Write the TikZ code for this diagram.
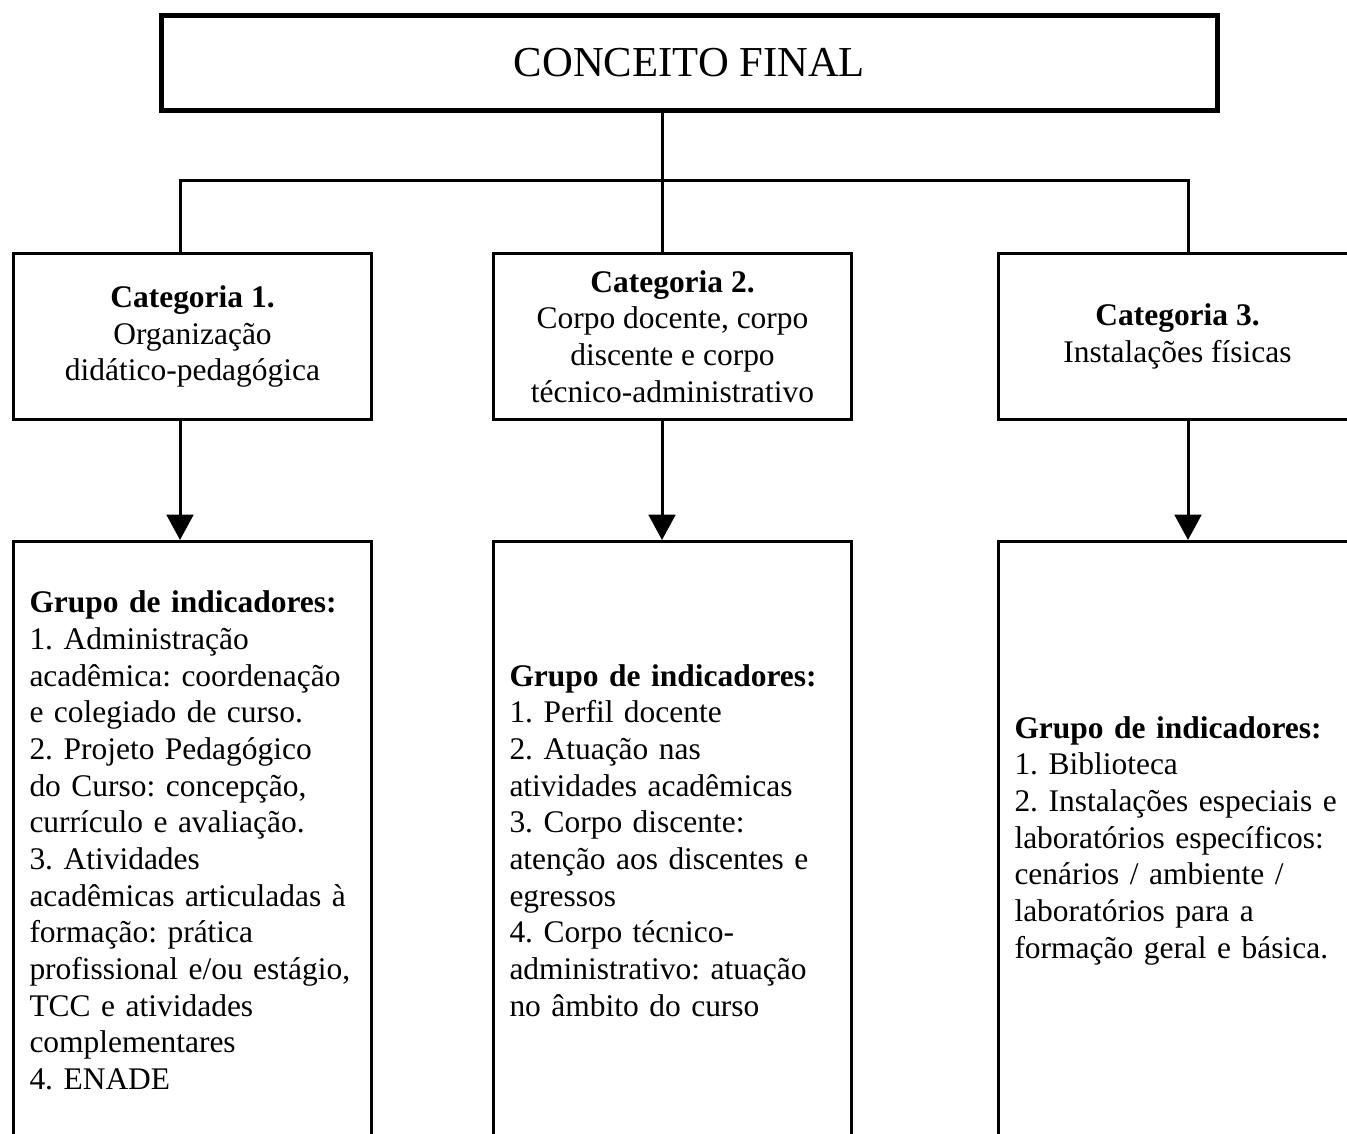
\documentclass[tikz,border=0pt]{standalone}
\usepackage{fontspec}
\setmainfont{Liberation Serif}
\usetikzlibrary{arrows.meta}
\frenchspacing
\hyphenpenalty=10000

\begin{document}
\begin{tikzpicture}[x=0.75pt,y=-0.75pt,
        caixa/.style={shape=rectangle,draw=black,line width=2.25pt,inner sep=0pt,
            minimum width=268.5pt,minimum height=124.5pt,align=center,
            font=\fontsize{23.6}{27.5}\selectfont},
        grupo/.style={shape=rectangle,draw=black,line width=2.25pt,inner xsep=12pt,inner ysep=0pt,
            minimum width=268.5pt,minimum height=448.5pt,text width=244.5pt,align=left,
            font=\fontsize{23.6}{27.5}\selectfont},
        liga/.style={line width=2.25pt},
        seta/.style={line width=2.25pt,-{Triangle[width=20pt,length=19pt]}}]
            \useasboundingbox (0,0) rectangle (1347,1133);
            \clip (0,0) rectangle (1347,1133);

            \node[shape=rectangle,draw=black,line width=3.75pt,minimum width=792pt,minimum height=71.25pt,
                font=\fontsize{32}{36}\selectfont] (final) at (689.5,63) {CONCEITO FINAL};

            \node[caixa] (cat1) at (192.5,336.5) {\textbf{Categoria 1.}\\Organização\\didático-pedagógica};
            \node[caixa] (cat2) at (672.5,336.5) {\textbf{Categoria 2.}\\Corpo docente, corpo\\discente e corpo\\técnico-administrativo};
            \node[caixa] (cat3) at (1177.5,336.5) {\textbf{Categoria 3.}\\Instalações físicas};

            \node[grupo] (grupo1) at (192.5,840.5) {\textbf{Grupo de indicadores:}\\1. Administração\\acadêmica: coordenação\\e colegiado de curso.\\2. Projeto Pedagógico\\do Curso: concepção,\\currículo e avaliação.\\3. Atividades\\acadêmicas articuladas à\\formação: prática\\profissional e/ou estágio,\\TCC e atividades\\complementares\\4. ENADE};
            \node[grupo] (grupo2) at (672.5,840.5) {\textbf{Grupo de indicadores:}\\1. Perfil docente\\2. Atuação nas\\atividades acadêmicas\\3. Corpo discente:\\atenção aos discentes e\\egressos\\4. Corpo técnico-\\administrativo: atuação\\no âmbito do curso};
            \node[grupo] (grupo3) at (1177.5,840.5) {\textbf{Grupo de indicadores:}\\1. Biblioteca\\2. Instalações especiais e\\laboratórios específicos:\\cenários / ambiente /\\laboratórios para a\\formação geral e básica.};

            %Ligacoes

            \coordinate (j1) at (180,180);
            \coordinate (j2) at (662,180);
            \coordinate (j3) at (1188,180);

            \draw[liga] (final.south -| j2) -- (j2 |- cat2.north);
            \draw[liga] (j1 |- cat1.north) -- (j1) -- (j3) -- (j3 |- cat3.north);

            \draw[seta] (j1 |- cat1.south) -- (j1 |- grupo1.north);
            \draw[seta] (j2 |- cat2.south) -- (j2 |- grupo2.north);
            \draw[seta] (j3 |- cat3.south) -- (j3 |- grupo3.north);
        \end{tikzpicture}
\end{document}
